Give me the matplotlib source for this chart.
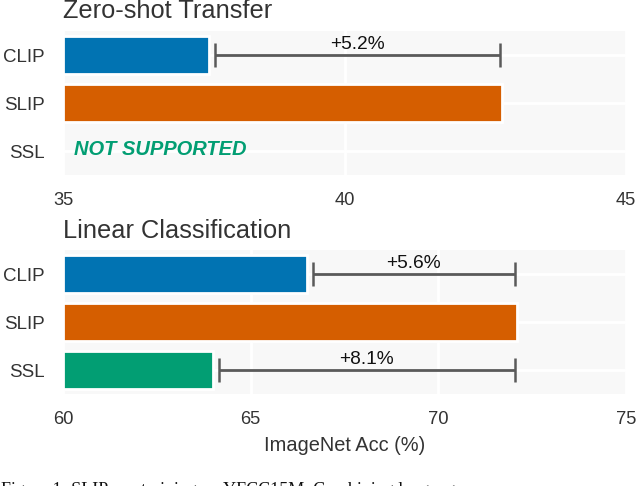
import matplotlib
matplotlib.use("Agg")
import matplotlib.pyplot as plt

plt.rcParams['font.family'] = ['Liberation Sans', 'DejaVu Sans']

# ---- data ----
models = ["CLIP", "SLIP", "SSL"]
zero_shot = [37.6, 42.8, None]          # SSL not supported
linear = [66.5, 72.1, 64.0]
zs_ticks = [35, 40, 45]
lin_ticks = [60, 65, 70, 75]
zs_gains = {"CLIP": "+5.2%"}
lin_gains = {"CLIP": "+5.6%", "SSL": "+8.1%"}
colors = ["#0173b2", "#d55e00", "#029e73"]

TXT = "#333333"
BG = "#f8f8f8"
ERR = "#5a5a5a"

fig = plt.figure(figsize=(6.38, 4.86), dpi=100)
left = 63 / 638
width = (626 - 63) / 638
ax1 = fig.add_axes([left, 1 - 175 / 486, width, 144 / 486])
ax2 = fig.add_axes([left, 1 - 394 / 486, width, 144 / 486])


def draw(ax, vals, ticks, gains, title, xlabel=None):
    ax.set_facecolor(BG)
    for s in ax.spines.values():
        s.set_visible(False)
    ypos = list(range(len(models)))
    for i, (m, v) in enumerate(zip(models, vals)):
        if v is None:
            continue
        ax.barh(i, v - ticks[0], left=ticks[0], height=0.8, color=colors[i],
                edgecolor="white", linewidth=2, zorder=2)
    ax.set_xlim(ticks[0], ticks[-1])
    ax.set_ylim(len(models) - 0.5, -0.5)
    ax.set_xticks(ticks)
    ax.set_xticklabels([str(t) for t in ticks], fontsize=13.2, color=TXT)
    ax.set_yticks(ypos)
    ax.set_yticklabels(models, fontsize=13.5, color=TXT)
    ax.tick_params(length=0, pad=12)
    ax.tick_params(axis="y", pad=13)
    ax.grid(True, color="white", linewidth=2, zorder=0)
    ax.set_axisbelow(True)
    ax.set_title(title, loc="left", fontsize=18.3, color=TXT, pad=9)
    rng = ticks[-1] - ticks[0]
    ref = vals[models.index("SLIP")]
    for m, g in gains.items():
        i = models.index(m)
        x0 = vals[i] + 0.01 * rng
        x1 = ref - 0.004 * rng
        ax.plot([x0, x1], [i, i], color=ERR, lw=2, zorder=3, solid_capstyle="butt")
        ax.plot([x0, x1], [i, i], color=ERR, ls="none", marker="|",
                markersize=17, markeredgewidth=1.8, zorder=3)
        ax.annotate(g, xy=((x0 + x1) / 2, i), xytext=(0, 4),
                    textcoords="offset points", ha="center", va="baseline",
                    fontsize=13.8, color="#111111", zorder=4)
    if xlabel:
        ax.set_xlabel(xlabel, fontsize=14.4, color=TXT, labelpad=6)


draw(ax1, zero_shot, zs_ticks, zs_gains, "Zero-shot Transfer")
ax1.text(zs_ticks[0] + 0.2, 1.97, "NOT SUPPORTED", fontsize=14.5, fontweight="bold",
         fontstyle="italic", color="#029e73", va="center", ha="left", zorder=4)
draw(ax2, linear, lin_ticks, lin_gains, "Linear Classification",
     xlabel="ImageNet Acc (%)")

fig.text(0.002, 1 - 482 / 486,
         "Figure 1: SLIP pre-training on YFCC15M. Combining language",
         family=["Liberation Serif", "DejaVu Serif"], fontsize=13, va="top",
         ha="left", color="#111111")

fig.savefig("out.png", dpi=100)
